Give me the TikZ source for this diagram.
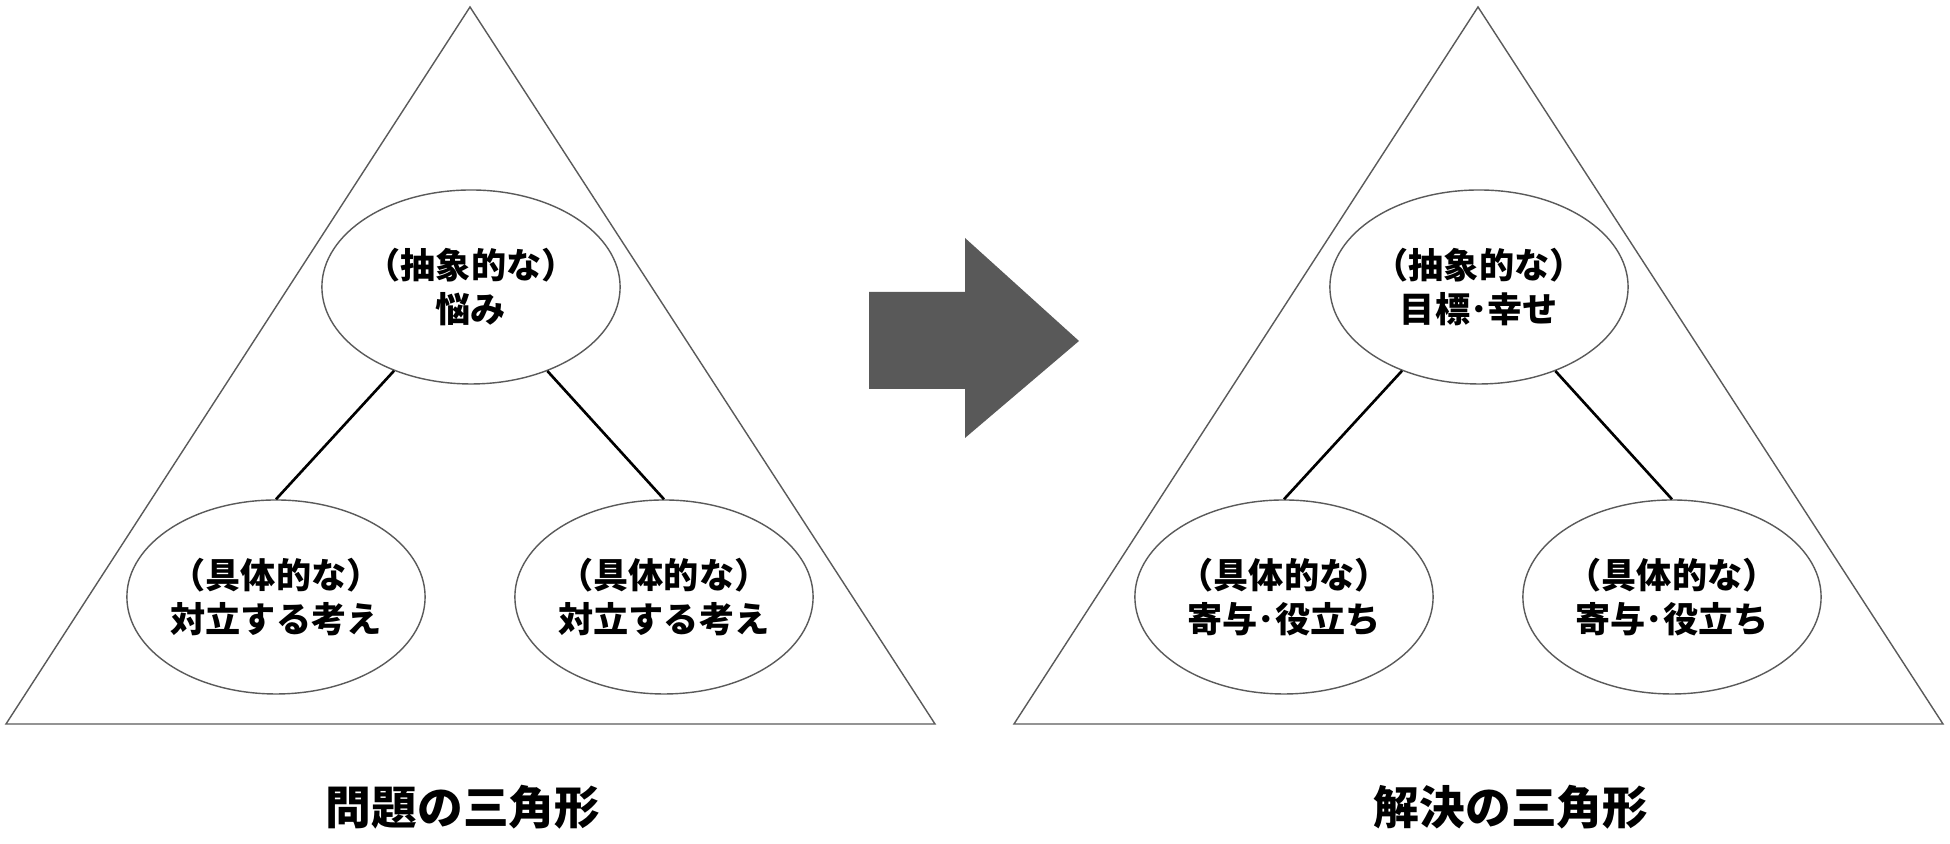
\documentclass[tikz,border=0pt]{standalone}
\usepackage{fontspec}
\usepackage{tikz}
\usetikzlibrary{shapes.geometric, positioning}
\newfontfamily\jpfont{Noto Sans CJK JP}
\definecolor{myline}{RGB}{90,90,90}
\definecolor{myarrow}{RGB}{89,89,89}
\tikzset{
  tri/.style={draw=myline, line width=0.4pt, fill=white},
  bubble/.style={ellipse, draw=myline, fill=white, line width=0.4pt,
    minimum width=2.93cm, minimum height=1.94cm, inner sep=0pt,
    align=center, font=\jpfont\bfseries\fontsize{10}{12.5}\selectfont},
  link/.style={line width=0.75pt, color=black},
  bigarrow/.style={fill=myarrow, draw=none},
  caption/.style={font=\jpfont\bfseries\fontsize{13}{15}\selectfont}
}

\begin{document}
\begin{tikzpicture}
  \useasboundingbox (0,0) rectangle (19.5,8.44);

  % Problem triangle
  \draw[tri] (0.06,1.20) -- (4.70,8.37) -- (9.35,1.20) -- cycle;
  \node[bubble] (ptop) at (4.71,5.57) {（抽象的な）\\悩み};
  \node[bubble] (pleft) at (2.76,2.47) {（具体的な）\\対立する考え};
  \node[bubble] (pright) at (6.64,2.47) {（具体的な）\\対立する考え};
  \draw[link] (ptop) -- (pleft.north);
  \draw[link] (ptop) -- (pright.north);
  \node[caption] (ptitle) at (4.63,0.37) {問題の三角形};

  % Arrow between the two
  \draw[bigarrow] (8.69,5.52) -- (9.65,5.52) -- (9.65,6.06) -- (10.79,5.03)
    -- (9.65,4.06) -- (9.65,4.55) -- (8.69,4.55) -- cycle;

  % Solution triangle
  \draw[tri] (10.14,1.20) -- (14.78,8.37) -- (19.43,1.20) -- cycle;
  \node[bubble] (stop) at (14.79,5.57) {（抽象的な）\\目標･幸せ};
  \node[bubble] (sleft) at (12.84,2.47) {（具体的な）\\寄与･役立ち};
  \node[bubble] (sright) at (16.72,2.47) {（具体的な）\\寄与･役立ち};
  \draw[link] (stop) -- (sleft.north);
  \draw[link] (stop) -- (sright.north);
  \node[caption] (stitle) at (15.11,0.37) {解決の三角形};
\end{tikzpicture}
\end{document}
